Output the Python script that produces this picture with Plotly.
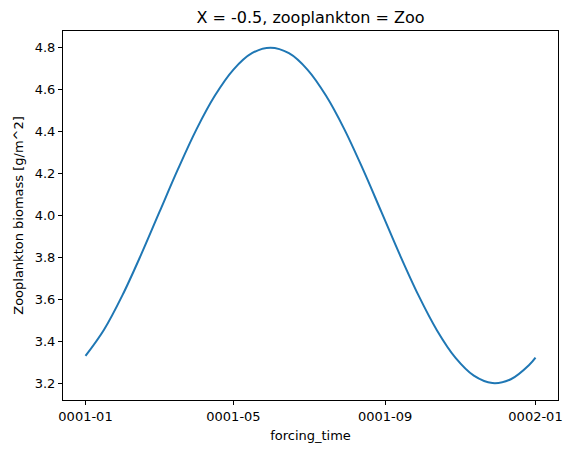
import plotly.graph_objects as go

# day of year (0 = 0001-01-01) and zooplankton biomass
forcing_day = [0, 15, 30, 45, 60, 75, 90, 105, 120, 135, 150, 165, 180, 195,
               210, 225, 240, 255, 270, 285, 300, 315, 330, 345, 360, 365]
biomass = [3.33, 3.455, 3.62, 3.812, 4.017, 4.221, 4.411, 4.572, 4.696, 4.774,
           4.80, 4.774, 4.696, 4.572, 4.411, 4.221, 4.017, 3.812, 3.62, 3.453,
           3.322, 3.236, 3.201, 3.219, 3.288, 3.322]

tick_days = [0, 120, 243, 365]
tick_labels = ["0001-01", "0001-05", "0001-09", "0002-01"]

fig = go.Figure()
fig.add_trace(go.Scatter(
    x=forcing_day,
    y=biomass,
    mode="lines",
    line=dict(color="#1f77b4", width=2, shape="spline", smoothing=1.0),
    showlegend=False,
))

axis_style = dict(
    showline=True, linecolor="black", linewidth=1, mirror=True,
    showgrid=False, zeroline=False, automargin=False,
    ticks="outside", ticklen=4, tickwidth=1, tickcolor="black",
    tickfont=dict(family="DejaVu Sans", size=13, color="black"),
)

fig.update_xaxes(
    range=[-18.25, 383.25],
    tickvals=tick_days, ticktext=tick_labels,
    title=dict(text="forcing_time", font=dict(family="DejaVu Sans", size=13, color="black"), standoff=8),
    **axis_style,
)
fig.update_yaxes(
    range=[3.12, 4.88],
    dtick=0.2, tick0=3.2, tickformat=".1f",
    title=dict(text="Zooplankton biomass [g/m^2]", font=dict(family="DejaVu Sans", size=13, color="black"), standoff=8),
    **axis_style,
)

fig.update_layout(
    width=575, height=454,
    margin=dict(l=63, r=17, t=31, b=54),
    paper_bgcolor="white", plot_bgcolor="white",
    title=dict(
        text="X = -0.5, zooplankton = Zoo",
        font=dict(family="DejaVu Sans", size=16, color="black"),
        x=(63 + 558) / 2 / 575, xanchor="center",
        y=1 - 17 / 454, yanchor="middle",
    ),
)

# drop the default page margin so the figure sits at the window's corner
fig.write_html("out.html", config={"displayModeBar": False},
               post_script="document.body.style.margin='0px';")
